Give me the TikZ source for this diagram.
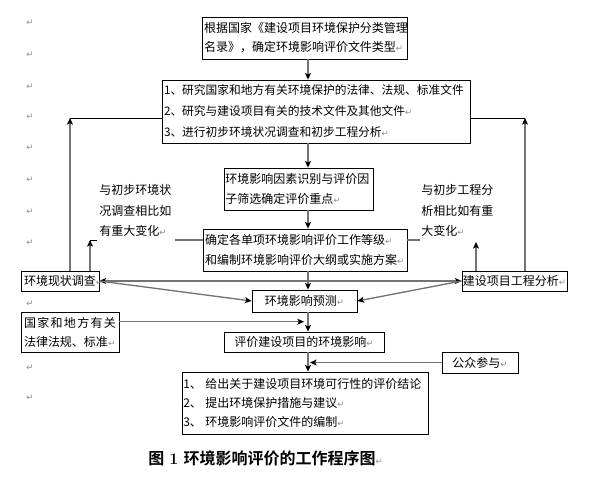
\documentclass[tikz,border=0pt]{standalone}
\usepackage{fontspec}
\newfontfamily\cjk{Noto Sans CJK SC}
\newfontfamily\cjkb{Noto Sans CJK SC Bold}
\newfontfamily\djv{DejaVu Sans}
\usetikzlibrary{arrows.meta}
\newcommand\retmark{{\djv\fontsize{6.5}{6.5}\selectfont\color{black!45}↵}}
\tikzset{
  box/.style={draw=black, line width=0.6pt, fill=white, inner xsep=1.5pt, inner ysep=0pt,
    font=\cjk\fontsize{9}{15}\selectfont, align=left},
  txt/.style={inner sep=0pt, font=\cjk\fontsize{9}{15.3}\selectfont, align=left},
  retnode/.style={inner sep=0pt, font=\djv\fontsize{6.5}{6.5}\selectfont, text=black!45},
  conn/.style={draw=black!55, line width=1pt},
  thinline/.style={draw=black, line width=0.7pt},
  arrowend/.style={-{Stealth[length=5pt,width=4.5pt,inset=1.2pt,color=black,fill=black]}},
  arrowboth/.style={{Stealth[length=5pt,width=4.5pt,inset=1.2pt,color=black,fill=black]}-{Stealth[length=5pt,width=4.5pt,inset=1.2pt,color=black,fill=black]}}
}
\begin{document}
\begin{tikzpicture}[x=0.75pt,y=-0.75pt]
\useasboundingbox (0,0) rectangle (590,476);
\fill[white] (0,0) rectangle (590,476);
\coordinate (mx) at (308,0);

% paragraph marks in the left margin
\foreach \yy [count=\i] in {23,55,87,117,148,180,212,243,304,368,398}
  \node[retnode] (pm\i) at (30,\yy) {↵};

% main boxes
\node[box, minimum width=153.75pt, text width=150.75pt, minimum height=31.5pt,
  font=\cjk\fontsize{9}{14.25}\selectfont] (A) at (304.5,38)
  {根据国家《建设项目环境保护分类管理\\名录》，确定环境影响评价文件类型\retmark};
\node[box, minimum width=231pt, text width=228pt, minimum height=47.25pt,
  font=\cjk\fontsize{8.8}{15.75}\selectfont] (B) at (316,111.5)
  {1、研究国家和地方有关环境保护的法律、法规、标准文件\\2、研究与建设项目有关的技术文件及其他文件\retmark\\3、进行初步环境状况调查和初步工程分析\retmark};
\node[box, inner xsep=1pt, minimum width=111.75pt, text width=109.75pt, minimum height=31.5pt] (C) at (298.5,189)
  {环境影响因素识别与评价因\\子筛选确定评价重点\retmark};
\node[box, minimum width=153pt, text width=150pt, minimum height=31.5pt] (D) at (305,250)
  {确定各单项环境影响评价工作等级\retmark\\和编制环境影响评价大纲或实施方案\retmark};
\node[box, align=center, minimum width=78.75pt, minimum height=16.5pt] (E) at (304.5,301)
  {环境影响预测\retmark};
\node[box, align=center, minimum width=120pt, minimum height=15pt] (F) at (304,342)
  {评价建设项目的环境影响\retmark};
\node[box, inner xsep=1pt, minimum width=184.5pt, text width=182.5pt, minimum height=46.5pt,
  font=\cjk\fontsize{9}{14.4}\selectfont] (G) at (305,403)
  {\makebox[16.5pt][l]{1、}给出关于建设项目环境可行性的评价结论\\\makebox[16.5pt][l]{2、}提出环境保护措施与建议\retmark\\\makebox[16.5pt][l]{3、}环境影响评价文件的编制\retmark};

% side boxes
\node[box, minimum width=58.5pt, minimum height=15pt] (L1) at (60,281)
  {环境现状调查\rlap{\retmark}};
\node[box, inner xsep=0.5pt, minimum width=78.75pt, minimum height=15pt] (R1) at (514.5,281)
  {建设项目工程分析\retmark};
\node[box, inner xsep=2.25pt, minimum width=73.5pt, text width=69pt, minimum height=30pt,
  font=\cjk\fontsize{9}{14.25}\selectfont] (L2) at (70,332)
  {\makebox[69pt][s]{国\hfill 家\hfill 和\hfill 地\hfill 方\hfill 有\hfill 关}\\法律法规、标准\retmark};
\node[box, align=center, minimum width=57pt, minimum height=15.75pt] (P) at (480,362.5)
  {公众参与\retmark};

% side notes
\node[txt, anchor=west] (T1) at (99,210.7) {与初步环境状\\况调查相比如\\有重大变化\retmark};
\node[txt, anchor=west] (T2) at (421,210.7) {与初步工程分\\析相比如有重\\大变化\retmark};

% caption
\node[anchor=west, inner sep=0pt] (cap) at (148,458)
  {\fontsize{12}{12}\selectfont{\cjkb 图} \textbf{1} {\cjkb 环境影响评价的工作程序图}\retmark};

% main flow
\draw[conn, arrowend] (A.south -| mx) -- (B.north -| mx);
\draw[conn, arrowend] (B.south -| mx) -- (C.north -| mx);
\draw[conn, arrowend] (C.south -| mx) -- (D.north -| mx);
\draw[conn, arrowend] (D.south -| mx) -- (E.north -| mx);
\draw[conn, arrowend] (E.south -| mx) -- (F.north -| mx);
\draw[conn, arrowend] (F.south -| mx) -- (G.north -| mx);

% feedback to box B
\coordinate (cl) at (70,118);
\coordinate (cr) at (525,118);
\draw[conn, arrowend] (L1.north -| cl) -- (cl);
\draw[thinline] (cl) -- (B.west |- cl);
\draw[conn, arrowend] (R1.north -| cr) -- (cr);
\draw[thinline] (B.east |- cr) -- (cr);

% feedback to box D
\coordinate (sl) at (90,240);
\coordinate (slt) at (97,240);
\coordinate (sle) at (175,240);
\draw[conn, arrowend] (L1.north -| sl) -- (sl);
\draw[thinline] (sl) -- (slt);
\draw[conn] (D.west |- sle) -- (sle);
\coordinate (sr) at (476,242);
\coordinate (sre) at (420,240);
\draw[conn, arrowend] (R1.north -| sr) -- (sr);
\draw[conn] (D.east |- sre) -- (sre);

% links between side boxes and prediction
\draw[conn, arrowboth] (L1.east) -- (R1.west);
\draw[conn, arrowend] (L1.east) -- (E.west);
\draw[conn, arrowend] (R1.west) -- (E.east);

% laws and public participation
\coordinate (le) at (304,321.7);
\draw[conn, arrowend] (L2.east |- le) -- (le);
\coordinate (pe) at (310,0);
\draw[conn, arrowend] (P.west) -- (P.west -| pe);
\end{tikzpicture}
\end{document}
